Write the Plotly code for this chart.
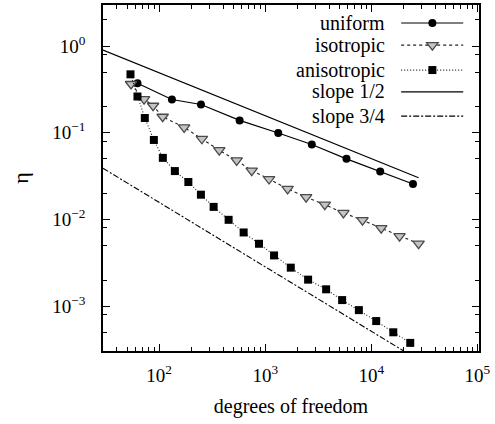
import plotly.graph_objects as go

# ---------------- data ----------------
uniform_dof = [62.5, 132, 248, 574, 1327, 2748, 5834, 12130, 24700]
uniform_eta = [0.372, 0.242, 0.212, 0.139, 0.0995, 0.0732, 0.0501, 0.0359, 0.0257]

iso_dof = [54.3, 72.1, 87.7, 108, 172, 253, 369, 538, 746, 1087, 1625, 2429,
           3645, 5460, 8260, 12400, 18450, 27900]
iso_eta = [0.365, 0.244, 0.205, 0.153, 0.1156, 0.0853, 0.063, 0.048, 0.0367,
           0.0293, 0.0226, 0.0181, 0.01486, 0.01193, 0.00984, 0.00796, 0.00645, 0.00527]

aniso_dof = [53.7, 62.5, 73.3, 89.2, 108.4, 140.7, 188.6, 247.7, 326.4, 452, 626,
             874, 1211, 1741, 2537, 3751, 5309, 7633, 11120, 16110, 23280]
aniso_eta = [0.472, 0.262, 0.148, 0.0827, 0.0514, 0.0362, 0.0271, 0.01935, 0.014,
             0.00993, 0.0071, 0.00526, 0.00386, 0.00279, 0.00203, 0.00157, 0.00118,
             0.000904, 0.000676, 0.000502, 0.000379]

slope12_dof = [29.6, 27900]
slope12_eta = [0.90, 0.0303]

slope34_dof = [29.6, 20100]
slope34_eta = [0.0390, 0.000307]

x_tickvals = [1e2, 1e3, 1e4, 1e5]
x_ticktext = ["10<sup>2</sup>", "10<sup>3</sup>", "10<sup>4</sup>", "10<sup>5</sup>"]
y_tickvals = [1e0, 1e-1, 1e-2, 1e-3]
y_ticktext = ["10<sup>0</sup>", "10<sup>\u22121</sup>", "10<sup>\u22122</sup>", "10<sup>\u22123</sup>"]

legend_names = ["uniform", "isotropic", "anisotropic", "slope 1/2", "slope 3/4"]

# ---------------- styles ----------------
FONT = "Liberation Serif, Times New Roman, Times, serif"
iso_dash = "3px,3px"
aniso_dash = "1px,2px"
s34_dash = "6px,2px,2px,2px"
tri_fill = "#c4c4c4"
tri_line = "#4a4a4a"

fig = go.Figure()

fig.add_trace(go.Scatter(x=slope12_dof, y=slope12_eta, mode="lines",
                         line=dict(color="black", width=1.2), showlegend=False))
fig.add_trace(go.Scatter(x=slope34_dof, y=slope34_eta, mode="lines",
                         line=dict(color="black", width=1.1, dash=s34_dash), showlegend=False))
fig.add_trace(go.Scatter(x=uniform_dof, y=uniform_eta, mode="lines+markers",
                         line=dict(color="black", width=1.2),
                         marker=dict(symbol="circle", size=8, color="black"),
                         showlegend=False))
fig.add_trace(go.Scatter(x=iso_dof, y=iso_eta, mode="lines+markers",
                         line=dict(color="#222222", width=1.1, dash=iso_dash),
                         marker=dict(symbol="triangle-down", size=10, color=tri_fill,
                                     line=dict(color=tri_line, width=1.3)),
                         showlegend=False))
fig.add_trace(go.Scatter(x=aniso_dof, y=aniso_eta, mode="lines+markers",
                         line=dict(color="#222222", width=1.1, dash=aniso_dash),
                         marker=dict(symbol="square", size=8, color="black"),
                         showlegend=False))

# ---------------- custom legend (key drawn to the right of text) ----------------
leg_rows = [0.948, 0.884, 0.812, 0.749, 0.679]
leg_text_x = 0.7543
leg_line_x0 = 0.793
leg_line_x1 = 0.958
leg_mark_x = 0.876
leg_dash = ["solid", iso_dash, aniso_dash, "solid", s34_dash]
leg_color = ["black", "#222222", "#222222", "black", "black"]
shapes = []
annotations = []
for i, name in enumerate(legend_names):
    yy = leg_rows[i]
    annotations.append(dict(x=leg_text_x, y=yy, xref="paper", yref="paper",
                            text=name, showarrow=False, xanchor="right", yanchor="middle",
                            font=dict(family=FONT, size=20, color="black")))
    shapes.append(dict(type="line", xref="paper", yref="paper",
                       x0=leg_line_x0, x1=leg_line_x1, y0=yy, y1=yy,
                       line=dict(color=leg_color[i], width=1.2, dash=leg_dash[i])))
shapes.append(dict(type="circle", xref="paper", yref="paper", xsizemode="pixel", ysizemode="pixel",
                   xanchor=leg_mark_x, yanchor=leg_rows[0], x0=-4, x1=4, y0=-4, y1=4,
                   fillcolor="black", line=dict(color="black", width=0)))
shapes.append(dict(type="path", xref="paper", yref="paper", xsizemode="pixel", ysizemode="pixel",
                   xanchor=leg_mark_x, yanchor=leg_rows[1],
                   path="M -5.8,2.5 L 5.8,2.5 L 0,-5 Z",
                   fillcolor=tri_fill, line=dict(color=tri_line, width=1.3)))
shapes.append(dict(type="rect", xref="paper", yref="paper", xsizemode="pixel", ysizemode="pixel",
                   xanchor=leg_mark_x, yanchor=leg_rows[2], x0=-4, x1=4, y0=-4, y1=4,
                   fillcolor="black", line=dict(color="black", width=0)))

x_minor = [m * 10 ** k for k in range(1, 5) for m in range(2, 10)]
y_minor = [m * 10.0 ** k for k in range(-4, 1) for m in (2, 5, 8)]

axis_common = dict(
    type="log", showline=True, mirror="allticks", linecolor="black", linewidth=1.5,
    ticks="inside", ticklen=7, tickwidth=1, tickcolor="black",
    showgrid=False, zeroline=False,
    tickfont=dict(family=FONT, size=19, color="black"),
)

fig.update_layout(
    width=495, height=424,
    margin=dict(l=103, r=16, t=3, b=73),
    paper_bgcolor="white", plot_bgcolor="white",
    font=dict(family=FONT, size=19, color="black"),
    showlegend=False,
    shapes=shapes, annotations=annotations,
    xaxis=dict(**axis_common, range=[1.471, 5.015], tickmode="array",
               tickvals=x_tickvals, ticktext=x_ticktext, ticklabelstandoff=6,
               minor=dict(tickmode="array", tickvals=x_minor, ticks="inside",
                          ticklen=4, tickwidth=1, tickcolor="black"),
               title=dict(text="degrees of freedom", font=dict(family=FONT, size=20),
                          standoff=14)),
    yaxis=dict(**axis_common, range=[-3.515, 0.473], tickmode="array",
               tickvals=y_tickvals, ticktext=y_ticktext, ticklabelstandoff=12,
               minor=dict(tickmode="array", tickvals=y_minor, ticks="inside",
                          ticklen=4, tickwidth=1, tickcolor="black"),
               title=dict(text="\u03b7", font=dict(family=FONT, size=22),
                          standoff=18)),
)

fig.write_html("out.html",
               config={"displayModeBar": False},
               post_script="document.body.style.margin='0';document.body.style.overflow='hidden';")
